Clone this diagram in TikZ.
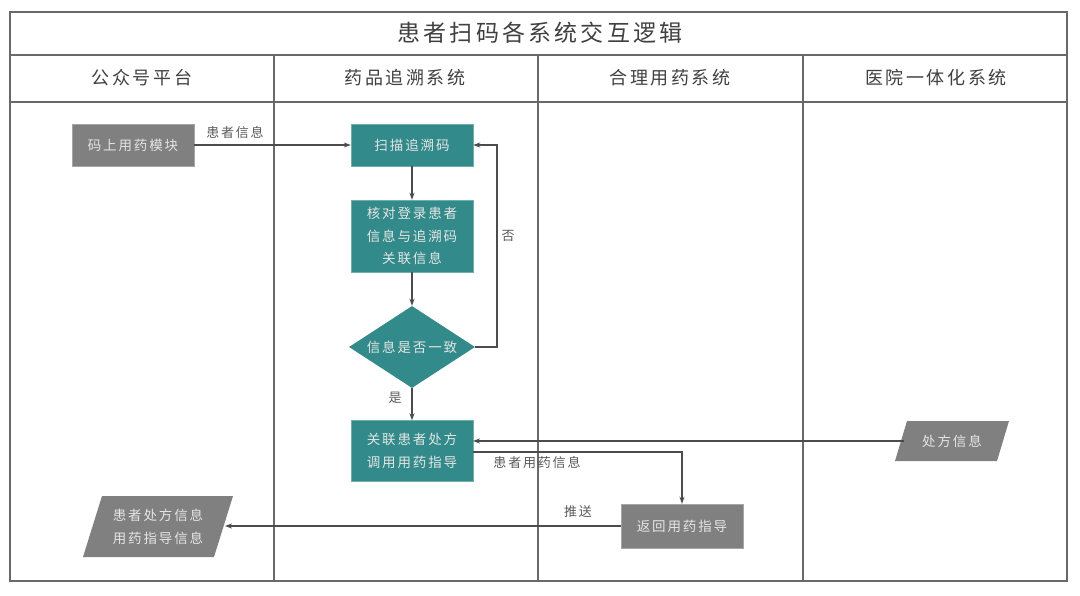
\documentclass[tikz,border=0pt]{standalone}
\usepackage{fontspec}
\newfontfamily\cjk[LetterSpace=14]{Noto Sans CJK SC}
\usetikzlibrary{shapes.geometric,arrows.meta}
\definecolor{teal1}{RGB}{50,138,138}
\definecolor{gray1}{RGB}{128,128,128}
\definecolor{frame1}{RGB}{105,105,105}
\definecolor{txt1}{RGB}{90,90,90}
\tikzset{
  x=1pt,y=-1pt,
  every node/.style={font=\cjk},
  boxfont/.style={font=\cjk\fontsize{13.5}{22.5}\selectfont},
  tbox/.style={fill=teal1,draw=teal1!70!white,text=white!90!black,minimum width=122pt,inner sep=1pt,boxfont,align=center},
  gbox/.style={fill=gray1,draw=gray1!70!white,text=white!90!black,minimum width=122pt,inner sep=1pt,boxfont,align=center},
  ptext/.style={text=white!90!black,inner sep=1pt,boxfont,align=center},
  pfill/.style={fill=gray1},
  conn/.style={draw=black!70,line width=1.1pt,-{Stealth[length=7pt,width=5pt]}},
  lbl/.style={text=txt1,font=\cjk\fontsize{13}{14}\selectfont,inner sep=1pt},
  hdr/.style={text=black!75,font=\cjk\fontsize{18}{20}\selectfont},
  grid1/.style={draw=frame1,line width=1.2pt}
}
\begin{document}
\begin{tikzpicture}
\useasboundingbox (0,0) rectangle (1080,596);
\fill[white] (0,0) rectangle (1080,596);
% frame
\draw[grid1,line width=1.8pt] (10,12) rectangle (1067,581);
\draw[grid1] (10,55) -- (1067,55);
\draw[grid1] (10,102) -- (1067,102);
\draw[grid1] (274,55) -- (274,581);
\draw[grid1] (538,55) -- (538,581);
\draw[grid1] (803,55) -- (803,581);
\node[hdr,font=\cjk\fontsize{23}{26}\selectfont] (title) at (540,33) {患者扫码各系统交互逻辑};
\node[hdr] (h1) at (142,78) {公众号平台};
\node[hdr] (h2) at (405,78) {药品追溯系统};
\node[hdr] (h3) at (670,78) {合理用药系统};
\node[hdr] (h4) at (936,78) {医院一体化系统};
% nodes
\node[gbox,minimum height=42pt] (m) at (133,145) {码上用药模块};
\node[tbox,minimum height=42pt] (s) at (412,145) {扫描追溯码};
\node[tbox,minimum height=72pt] (c) at (412,236) {核对登录患者\\信息与追溯码\\关联信息};
\node[diamond,fill=teal1,text=white!90!black,minimum width=126pt,minimum height=82pt,inner sep=0pt,aspect=1.5,boxfont] (d) at (412,347) {信息是否一致};
\node[tbox,minimum height=61pt] (g) at (412,451) {关联患者处方\\调用用药指导};
\fill[pfill] (895,461) -- (907,421) -- (1009,421) -- (997,461) -- cycle;
\node[ptext,minimum width=96pt,minimum height=40pt] (p) at (952,441) {处方信息};
\node[gbox,minimum height=44pt] (r) at (682,526) {返回用药指导};
\fill[pfill] (83,557) -- (102,496) -- (233,496) -- (214,557) -- cycle;
\node[ptext,minimum width=128pt,minimum height=61pt] (o) at (158,527) {患者处方信息\\用药指导信息};
\coordinate (pin) at (473,441);
\coordinate (gout) at (473,452);
\coordinate (oin) at (225,526);
% connectors
\draw[conn] (m.east) -- (s.west);
\node[lbl] (l0) at (235,133) {患者信息};
\draw[conn] (s) -- (c);
\draw[conn] (c) -- (d);
\draw[conn] (d.east) -- (497,347) -- (497,145) -- (s.east);
\node[lbl] (no) at (508,236) {否};
\draw[conn] (d.south) -- (g.north);
\node[lbl] (yes) at (395,398) {是};
\draw[conn] (p.west) -- (pin);
\draw[conn] (gout) -- (682,452) -- (r.north);
\node[lbl] (l1) at (537,463) {患者用药信息};
\draw[conn] (r.west) -- (oin);
\node[lbl] (l2) at (578,512) {推送};
\end{tikzpicture}
\end{document}
